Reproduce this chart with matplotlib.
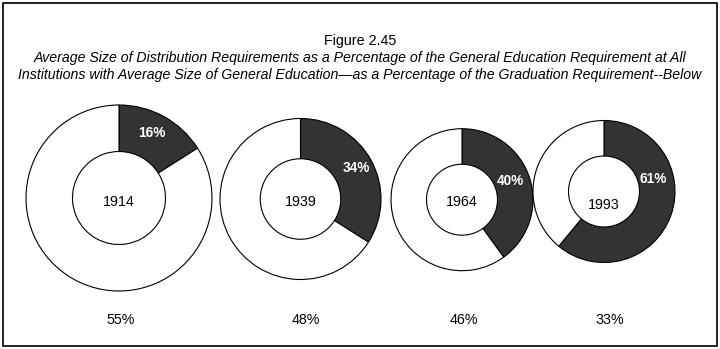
import matplotlib.pyplot as plt
from matplotlib.patches import Rectangle

# data
years = ["1914", "1939", "1964", "1993"]
distrib_pct = [16, 34, 40, 61]
gened_pct = [55, 48, 46, 33]

# layout in pixel units (y up)
centers = [(119, 151), (300.5, 150), (462, 149.3), (604, 157.5)]
radii = [93, 80.5, 71, 71]
year_y = [147.5, 146.5, 147, 144]
lab_pos = [(152, 216), (356, 181), (510, 168), (653, 170)]
bottom_x = [121, 306, 464, 610]

fig = plt.figure(figsize=(7.2, 3.49), dpi=100)
ax = fig.add_axes([0, 0, 1, 1])

for i in range(len(years)):
    p = distrib_pct[i]
    ax.pie([p, 100 - p], colors=["#333333", "white"], startangle=90,
           counterclock=False, center=centers[i], radius=radii[i], frame=True,
           wedgeprops=dict(width=radii[i] * 0.5, edgecolor="black", linewidth=0.8))
    ax.text(centers[i][0], year_y[i], years[i], ha="center", va="center",
            fontsize=10.3, family="Liberation Sans")
    ax.text(lab_pos[i][0], lab_pos[i][1], str(p) + "%", ha="center", va="center",
            fontsize=9.8, fontweight="bold", color="white", family="Liberation Sans")
    ax.text(bottom_x[i], 29, str(gened_pct[i]) + "%", ha="center", va="center",
            fontsize=10.3, family="Liberation Sans")

ax.text(360, 308, "Figure 2.45", ha="center", va="center", fontsize=10.3,
        family="Liberation Sans")
ax.text(360, 291, "Average Size of Distribution Requirements as a Percentage of the General Education Requirement at All",
        ha="center", va="center", fontsize=10.2, style="italic", family="Liberation Sans")
ax.text(360, 274, "Institutions with Average Size of General Education\u2014as a Percentage of the Graduation Requirement--Below",
        ha="center", va="center", fontsize=10.2, style="italic", family="Liberation Sans")

ax.add_patch(Rectangle((3, 3), 714, 343, fill=False, edgecolor="black", linewidth=1.2))

ax.set_xlim(0, 720)
ax.set_ylim(0, 349)
ax.set_aspect("auto")
ax.axis("off")

fig.savefig("out.png", dpi=100)
